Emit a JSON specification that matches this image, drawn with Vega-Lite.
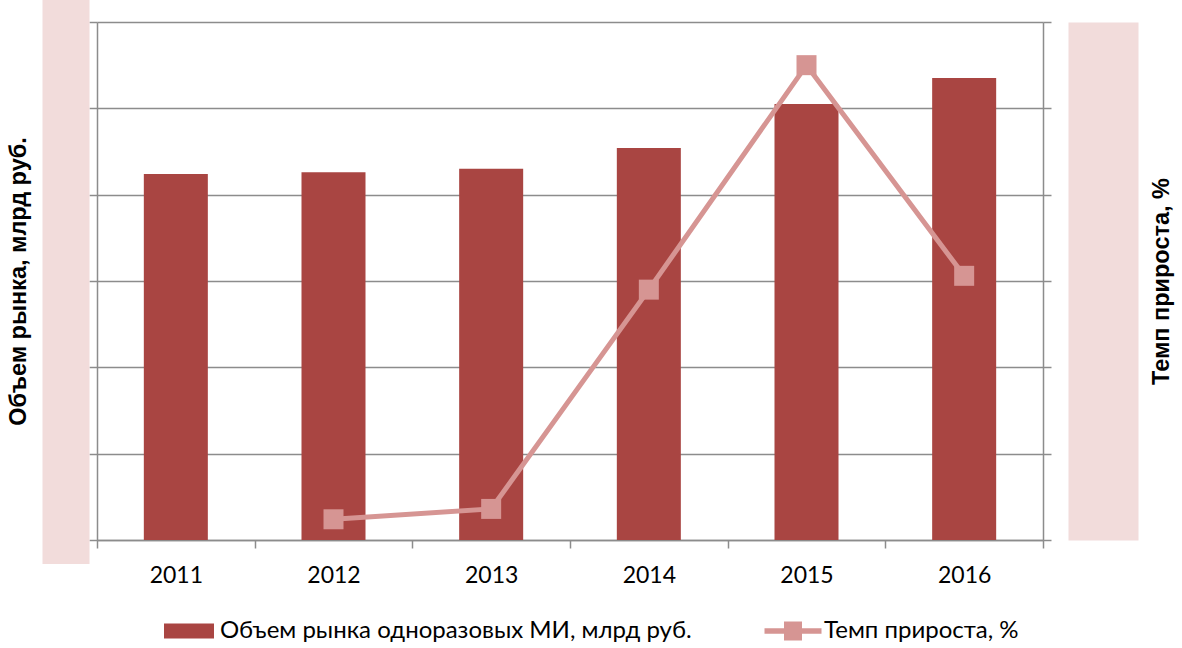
{
  "$schema": "https://vega.github.io/schema/vega-lite/v6.json",
  "width": 946,
  "height": 518,
  "autosize": {"type": "none"},
  "padding": {"left": 97, "top": 22, "right": 139, "bottom": 108},
  "background": "white",
  "config": {
    "view": {"stroke": null},
    "axisX": {
      "title": null,
      "grid": false,
      "domain": true,
      "domainColor": "#8c8c8c",
      "domainWidth": 1.5,
      "ticks": true,
      "tickBand": "extent",
      "tickSize": 8,
      "tickColor": "#8c8c8c",
      "tickWidth": 1.5,
      "labelAngle": 0,
      "labelFont": "Lato",
      "labelFontSize": 23,
      "labelColor": "#000000",
      "labelPadding": 16
    }
  },
  "datasets": {
    "main": [
      {"year": "2011", "volume": 42.4, "growth": null},
      {"year": "2012", "volume": 42.6, "growth": 1.2},
      {"year": "2013", "volume": 43.0, "growth": 1.8},
      {"year": "2014", "volume": 45.4, "growth": 14.5},
      {"year": "2015", "volume": 50.5, "growth": 27.5},
      {"year": "2016", "volume": 53.5, "growth": 15.3}
    ],
    "legendRows": [
      {"series": "Объем рынка одноразовых МИ, млрд руб.", "v": null},
      {"series": "Темп прироста, %", "v": null}
    ]
  },
  "layer": [
    {
      "data": {"name": "main"},
      "mark": {"type": "bar", "color": "#A94542", "width": {"band": 0.406}},
      "encoding": {
        "x": {"field": "year", "type": "ordinal", "scale": {"paddingInner": 0, "paddingOuter": 0}},
        "y": {
          "field": "volume",
          "type": "quantitative",
          "scale": {"domain": [0, 60], "nice": false, "zero": true},
          "axis": {
            "orient": "left",
            "values": [0, 10, 20, 30, 40, 50, 60],
            "grid": true,
            "gridColor": "#8c8c8c",
            "gridWidth": 1.5,
            "labels": false,
            "ticks": true,
            "tickSize": 8,
            "tickColor": "#8c8c8c",
            "tickWidth": 1.5,
            "domain": true,
            "domainColor": "#8c8c8c",
            "domainWidth": 1.5,
            "title": null
          }
        }
      }
    },
    {
      "data": {"name": "main"},
      "mark": {"type": "tick", "opacity": 0},
      "encoding": {
        "y": {
          "field": "volume",
          "type": "quantitative",
          "scale": {"domain": [0, 60], "nice": false},
          "axis": {
            "orient": "left",
            "offset": 31.5,
            "grid": false,
            "labels": false,
            "ticks": false,
            "domain": true,
            "domainColor": "#F2DCDB",
            "domainWidth": 47,
            "domainCap": "square",
            "title": "Объем рынка, млрд руб.",
            "titleFont": "Liberation Sans",
            "titleFontWeight": "bold",
            "titleFontSize": 23.5,
            "titleColor": "#000000",
            "titlePadding": 35
          }
        }
      }
    },
    {
      "data": {"name": "main"},
      "mark": {
        "type": "line",
        "color": "#D69593",
        "strokeWidth": 5,
        "point": {"shape": "square", "size": 400, "filled": true, "color": "#D69593", "opacity": 1}
      },
      "encoding": {
        "x": {"field": "year", "type": "ordinal", "scale": {"paddingInner": 0, "paddingOuter": 0}},
        "y": {
          "field": "growth",
          "type": "quantitative",
          "scale": {"domain": [0, 30], "nice": false},
          "axis": {
            "orient": "right",
            "values": [0, 5, 10, 15, 20, 25, 30],
            "grid": false,
            "labels": false,
            "ticks": true,
            "tickSize": 8,
            "tickColor": "#8c8c8c",
            "tickWidth": 1.5,
            "domain": true,
            "domainColor": "#8c8c8c",
            "domainWidth": 1.5,
            "title": null
          }
        }
      }
    },
    {
      "data": {"name": "main"},
      "mark": {"type": "tick", "opacity": 0},
      "encoding": {
        "y": {
          "field": "growth",
          "type": "quantitative",
          "scale": {"domain": [0, 30], "nice": false},
          "axis": {
            "orient": "right",
            "offset": 60,
            "grid": false,
            "labels": false,
            "ticks": false,
            "domain": true,
            "domainColor": "#F2DCDB",
            "domainWidth": 70,
            "title": "Темп прироста, %",
            "titleAngle": -90,
            "titleBaseline": "top",
            "titleFont": "Liberation Sans",
            "titleFontWeight": "bold",
            "titleFontSize": 23.5,
            "titleColor": "#000000",
            "titlePadding": 46
          }
        }
      }
    },
    {
      "data": {"name": "legendRows"},
      "mark": {"type": "point", "filled": true, "opacity": 1},
      "encoding": {
        "y": {"field": "v", "type": "quantitative", "axis": null},
        "fill": {
          "field": "series",
          "type": "nominal",
          "scale": {
            "domain": ["Объем рынка одноразовых МИ, млрд руб.", "Темп прироста, %"],
            "range": ["#A94542", "#D69593"]
          },
          "legend": {
            "orient": "none",
            "legendX": 67,
            "legendY": 584,
            "direction": "horizontal",
            "title": null,
            "padding": 0,
            "labelFont": "Lato",
            "labelFontSize": 24,
            "labelColor": "#000000",
            "labelOffset": 6,
            "labelLimit": 0,
            "columnPadding": 72,
            "symbolSize": 2500,
            "symbolStrokeWidth": 0,
            "symbolOpacity": 1
          }
        },
        "shape": {
          "field": "series",
          "type": "nominal",
          "scale": {
            "domain": ["Объем рынка одноразовых МИ, млрд руб.", "Темп прироста, %"],
            "range": ["M-1,-0.3H1V0.3H-1Z", "M-1.14,-0.11H1.14V0.11H-1.14Z M-0.36,-0.38H0.36V0.38H-0.36Z"]
          }
        }
      }
    }
  ],
  "resolve": {"scale": {"y": "independent"}}
}
